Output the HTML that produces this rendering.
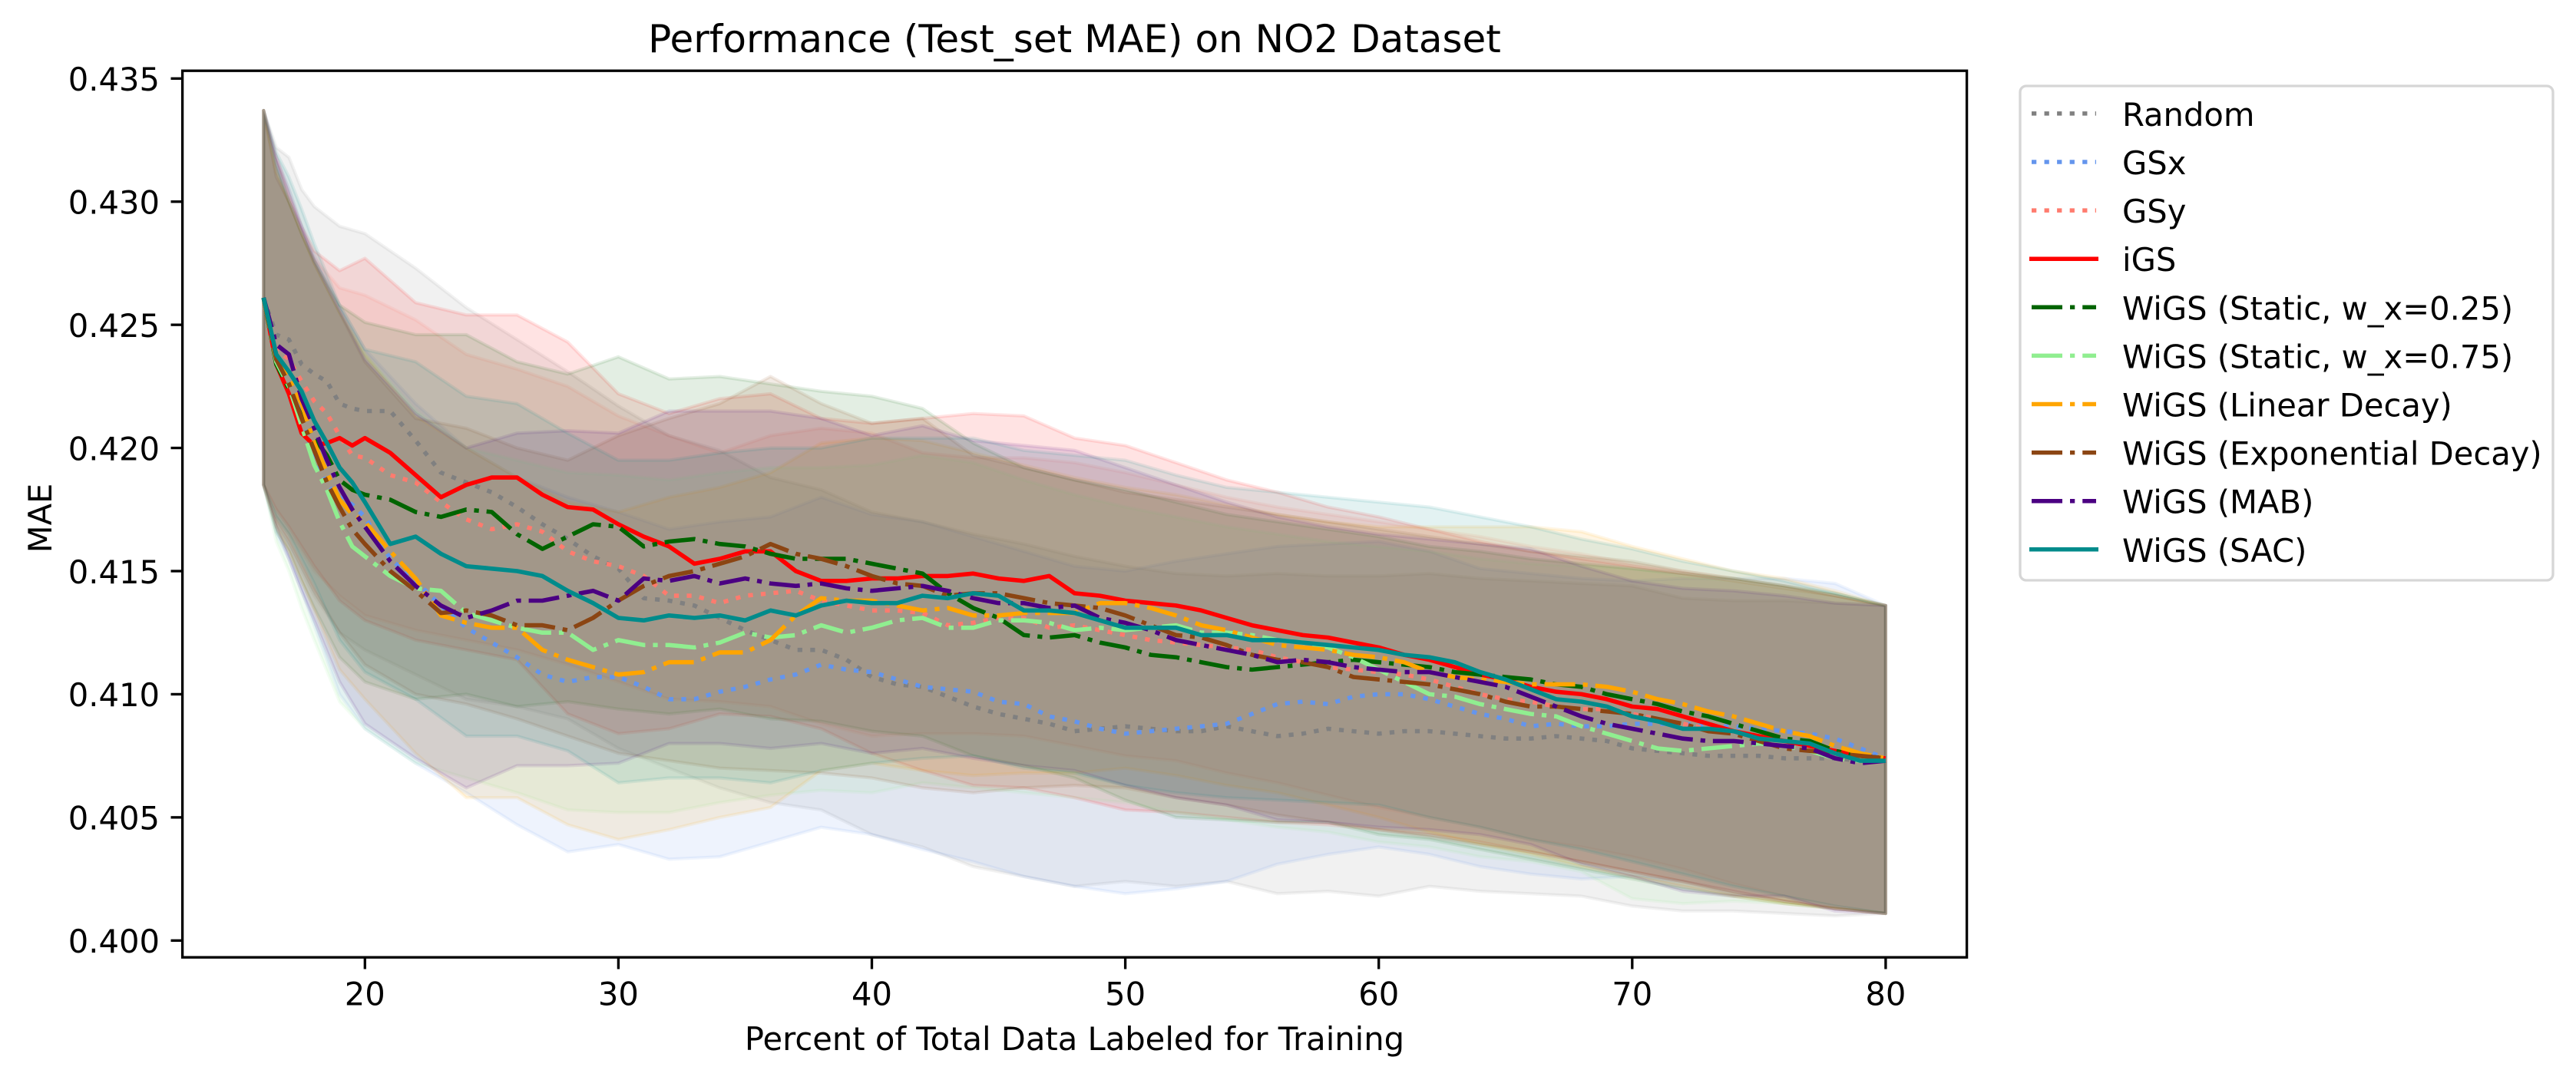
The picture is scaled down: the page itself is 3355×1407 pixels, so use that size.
<!DOCTYPE html>
<html lang="en">
<head>
<meta charset="utf-8">
<title>Performance (Test_set MAE) on NO2 Dataset</title>
<style>
html,body{margin:0;padding:0;background:#fff;width:3355px;height:1407px;overflow:hidden}
svg{display:block}
text{font-family:"DejaVu Sans","Liberation Sans",sans-serif;fill:#000}
</style>
</head>
<body>
<svg id="chart" xmlns="http://www.w3.org/2000/svg" width="3355" height="1407" viewBox="0 0 3355 1407">
  <rect x="0" y="0" width="3355" height="1407" fill="#ffffff"/>
  <g id="bands"></g>
  <g id="lines"></g>
  <g id="ticks"></g>
  <rect x="237.6" y="92.2" width="2324" height="1155" fill="none" stroke="#000" stroke-width="3.33"/>
  <text x="1399.5" y="68" font-size="50" text-anchor="middle">Performance (Test_set MAE) on NO2 Dataset</text>
  <text x="1399.5" y="1368" font-size="41.67" text-anchor="middle">Percent of Total Data Labeled for Training</text>
  <text x="0" y="0" font-size="41.67" text-anchor="middle" transform="translate(67 675) rotate(-90)">MAE</text>
  <g id="legend">
    <rect x="2631" y="112" width="694" height="644" rx="8" ry="8" fill="#ffffff" stroke="#d6d6d6" stroke-width="3.33"/>
    <g><line x1="2646" x2="2730" y1="147.9" y2="147.9" stroke="#808080" stroke-width="5.5" stroke-dasharray="6.25 10.3"/><text x="2764" y="163.9" font-size="41.67">Random</text></g>
    <g><line x1="2646" x2="2730" y1="211" y2="211" stroke="#6495ed" stroke-width="5.5" stroke-dasharray="6.25 10.3"/><text x="2764" y="227" font-size="41.67">GSx</text></g>
    <g><line x1="2646" x2="2730" y1="274.1" y2="274.1" stroke="#ff7b6e" stroke-width="5.5" stroke-dasharray="6.25 10.3"/><text x="2764" y="290.1" font-size="41.67">GSy</text></g>
    <g><line x1="2643" x2="2733" y1="337.2" y2="337.2" stroke="#ff0000" stroke-width="5.5"/><text x="2764" y="353.2" font-size="41.67">iGS</text></g>
    <g><line x1="2646" x2="2730" y1="400.3" y2="400.3" stroke="#006400" stroke-width="5.5" stroke-dasharray="40 10 6.25 10"/><text x="2764" y="416.3" font-size="41.67">WiGS (Static, w_x=0.25)</text></g>
    <g><line x1="2646" x2="2730" y1="463.4" y2="463.4" stroke="#90ee90" stroke-width="5.5" stroke-dasharray="40 10 6.25 10"/><text x="2764" y="479.4" font-size="41.67">WiGS (Static, w_x=0.75)</text></g>
    <g><line x1="2646" x2="2730" y1="526.5" y2="526.5" stroke="#ffa500" stroke-width="5.5" stroke-dasharray="40 10 6.25 10"/><text x="2764" y="542.5" font-size="41.67">WiGS (Linear Decay)</text></g>
    <g><line x1="2646" x2="2730" y1="589.6" y2="589.6" stroke="#8b4513" stroke-width="5.5" stroke-dasharray="40 10 6.25 10"/><text x="2764" y="605.6" font-size="41.67">WiGS (Exponential Decay)</text></g>
    <g><line x1="2646" x2="2730" y1="652.7" y2="652.7" stroke="#4b0082" stroke-width="5.5" stroke-dasharray="40 10 6.25 10"/><text x="2764" y="668.7" font-size="41.67">WiGS (MAB)</text></g>
    <g><line x1="2643" x2="2733" y1="715.8" y2="715.8" stroke="#008b8b" stroke-width="5.5"/><text x="2764" y="731.8" font-size="41.67">WiGS (SAC)</text></g>
  </g>
</svg>
<script>
// ---- Data ----
const percentLabeled = [16,16.5,17,17.5,18,18.5,19,19.5,20,
  21,22,23,24,25,26,27,28,29,30,31,32,33,34,35,36,37,38,39,40,
  41,42,43,44,45,46,47,48,49,50,51,52,53,54,55,56,57,58,59,60,
  61,62,63,64,65,66,67,68,69,70,71,72,73,74,75,76,77,78,79,80];
const bandPercent = [16,16.5,17,17.5,18,19,20,22,24,26,28,30,32,34,36,38,40,42,44,46,48,50,52,54,56,58,60,62,64,66,68,70,72,74,76,78,80];
const xTicks = [20,30,40,50,60,70,80];
const yTicks = ["0.400","0.405","0.410","0.415","0.420","0.425","0.430","0.435"];

const meanRandom = [.4261,.4246,.4244,.4234,.4230,.4227,.4218,.4216,.4215,
  .4215,.4203,.4190,.4186,.4182,.4176,.4169,.4163,.4156,.4151,
  .4139,.4138,.4136,.4131,.4126,.4122,.4118,.4118,.4114,.4107,
  .4104,.4103,.4099,.4095,.4092,.4090,.4088,.4085,.4086,.4087,
  .4086,.4085,.4085,.4087,.4085,.4083,.4084,.4086,.4085,.4084,
  .4085,.4085,.4084,.4083,.4082,.4082,.4083,.4082,.4081,.4078,
  .4077,.4076,.4075,.4075,.4075,.4074,.4074,.4074,.4073,.4073];
const meanGSx = [.4261,.4236,.4228,.4213,.4195,.4185,.4180,.4177,.4172,
  .4155,.4146,.4136,.4127,.4121,.4115,.4108,.4105,.4107,.4107,
  .4103,.4098,.4098,.4101,.4103,.4106,.4108,.4112,.4110,.4109,
  .4106,.4103,.4102,.4101,.4097,.4096,.4091,.4089,.4086,.4084,
  .4085,.4086,.4087,.4088,.4092,.4096,.4097,.4096,.4099,.4100,
  .4100,.4098,.4095,.4092,.4090,.4087,.4088,.4087,.4087,.4088,
  .4088,.4088,.4087,.4087,.4086,.4085,.4084,.4082,.4078,.4074];
const meanGSy = [.4261,.4240,.4236,.4227,.4219,.4214,.4205,.4197,.4196,
  .4189,.4186,.4178,.4171,.4167,.4169,.4166,.4158,.4154,.4152,
  .4148,.4140,.4140,.4137,.4140,.4141,.4142,.4138,.4136,.4134,
  .4134,.4133,.4128,.4129,.4131,.4131,.4127,.4128,.4126,.4124,
  .4122,.4121,.4120,.4119,.4118,.4115,.4113,.4111,.4110,.4109,
  .4108,.4106,.4103,.4100,.4098,.4097,.4095,.4094,.4094,.4092,
  .4090,.4088,.4086,.4085,.4082,.4081,.4079,.4077,.4075,.4074];
const meanIGS = [.4261,.4234,.4222,.4206,.4201,.4202,.4204,.4201,.4204,
  .4198,.4189,.4180,.4185,.4188,.4188,.4181,.4176,.4175,.4169,
  .4164,.4160,.4153,.4155,.4158,.4158,.4150,.4146,.4146,.4147,
  .4147,.4148,.4148,.4149,.4147,.4146,.4148,.4141,.4140,.4138,
  .4137,.4136,.4134,.4131,.4128,.4126,.4124,.4123,.4121,.4119,
  .4116,.4114,.4111,.4108,.4106,.4103,.4101,.4100,.4098,.4095,
  .4094,.4091,.4088,.4085,.4083,.4081,.4079,.4077,.4075,.4074];
const meanStatic25 = [.4261,.4234,.4224,.4213,.4204,.4197,.4187,.4183,.4181,
  .4179,.4174,.4172,.4175,.4174,.4165,.4159,.4164,.4169,.4168,
  .4160,.4162,.4163,.4161,.4160,.4157,.4155,.4155,.4155,.4153,
  .4151,.4149,.4141,.4135,.4131,.4124,.4123,.4124,.4121,.4119,
  .4116,.4115,.4113,.4111,.4110,.4111,.4112,.4113,.4114,.4113,
  .4112,.4111,.4109,.4108,.4107,.4106,.4104,.4103,.4100,.4098,
  .4096,.4093,.4091,.4088,.4085,.4082,.4081,.4077,.4075,.4074];
const meanStatic75 = [.4261,.4235,.4225,.4209,.4193,.4183,.4170,.4160,.4156,
  .4148,.4143,.4142,.4133,.4130,.4127,.4125,.4125,.4118,.4122,
  .4120,.4120,.4119,.4121,.4125,.4123,.4124,.4128,.4125,.4127,
  .4130,.4131,.4127,.4127,.4130,.4130,.4129,.4126,.4127,.4126,
  .4127,.4128,.4125,.4125,.4124,.4122,.4121,.4119,.4115,.4110,
  .4105,.4100,.4099,.4096,.4094,.4092,.4091,.4087,.4084,.4081,
  .4078,.4077,.4078,.4079,.4080,.4079,.4077,.4074,.4073,.4073];
const meanLinear = [.4261,.4236,.4228,.4218,.4202,.4190,.4179,.4173,.4170,
  .4158,.4147,.4132,.4129,.4127,.4127,.4118,.4114,.4111,.4108,
  .4109,.4113,.4113,.4117,.4117,.4122,.4132,.4139,.4138,.4138,
  .4136,.4134,.4135,.4132,.4132,.4133,.4133,.4133,.4137,.4137,
  .4135,.4132,.4128,.4126,.4123,.4120,.4119,.4118,.4116,.4115,
  .4113,.4109,.4107,.4106,.4105,.4104,.4104,.4104,.4103,.4101,
  .4098,.4096,.4093,.4091,.4088,.4085,.4083,.4079,.4076,.4074];
const meanExponential = [.4261,.4236,.4226,.4212,.4199,.4186,.4176,.4167,.4161,
  .4150,.4142,.4133,.4134,.4132,.4128,.4128,.4126,.4131,.4138,
  .4144,.4148,.4150,.4153,.4156,.4161,.4157,.4155,.4152,.4148,
  .4145,.4144,.4140,.4141,.4141,.4139,.4137,.4136,.4135,.4132,
  .4128,.4124,.4123,.4120,.4116,.4114,.4113,.4111,.4107,.4106,
  .4105,.4104,.4102,.4100,.4097,.4095,.4095,.4094,.4093,.4092,
  .4090,.4088,.4085,.4084,.4081,.4078,.4077,.4076,.4075,.4074];
const meanMAB = [.4261,.4242,.4238,.4220,.4208,.4195,.4184,.4175,.4168,
  .4154,.4144,.4136,.4131,.4134,.4138,.4138,.4140,.4142,.4138,
  .4147,.4146,.4148,.4145,.4147,.4145,.4144,.4145,.4143,.4142,
  .4143,.4144,.4142,.4139,.4137,.4137,.4135,.4136,.4131,.4129,
  .4126,.4122,.4120,.4118,.4116,.4113,.4114,.4113,.4111,.4110,
  .4109,.4109,.4107,.4105,.4103,.4099,.4095,.4091,.4088,.4086,
  .4084,.4082,.4081,.4081,.4080,.4079,.4078,.4074,.4072,.4073];
const meanSAC = [.4261,.4238,.4231,.4223,.4211,.4202,.4192,.4186,.4178,
  .4161,.4164,.4157,.4152,.4151,.4150,.4148,.4142,.4137,.4131,
  .4130,.4132,.4131,.4132,.4130,.4134,.4132,.4136,.4138,.4137,
  .4137,.4140,.4139,.4141,.4140,.4134,.4134,.4133,.4130,.4127,
  .4127,.4127,.4124,.4124,.4122,.4122,.4121,.4120,.4119,.4118,
  .4116,.4115,.4113,.4109,.4106,.4102,.4098,.4097,.4095,.4091,
  .4089,.4086,.4086,.4085,.4082,.4081,.4080,.4076,.4073,.4073];

const upperRandom = [.4337,.4322,.4318,.4305,.4298,.4290,.4287,.4273,.4257,.4244,.4231,.4217,.4205,.4199,.4188,.4183,.4174,.4170,.4165,.4161,.4156,.4152,.4149,.4148,.4149,.4148,.4148,.4149,.4147,.4146,.4145,.4144,.4139,.4138,.4138,.4137,.4136];
const lowerRandom = [.4185,.4168,.4160,.4150,.4140,.4125,.4118,.4108,.4098,.4095,.4090,.4078,.4070,.4062,.4056,.4053,.4043,.4038,.4030,.4026,.4022,.4024,.4022,.4024,.4019,.4020,.4018,.4022,.4020,.4019,.4018,.4014,.4012,.4012,.4011,.4010,.4011];
const upperGSx = [.4337,.4316,.4300,.4290,.4278,.4258,.4240,.4218,.4200,.4188,.4180,.4174,.4167,.4170,.4172,.4180,.4173,.4170,.4164,.4158,.4152,.4150,.4154,.4157,.4160,.4161,.4162,.4158,.4151,.4149,.4147,.4146,.4147,.4147,.4147,.4145,.4136];
const lowerGSx = [.4185,.4165,.4155,.4142,.4128,.4100,.4086,.4072,.4060,.4047,.4036,.4039,.4033,.4034,.4040,.4046,.4043,.4037,.4032,.4026,.4022,.4019,.4021,.4024,.4031,.4035,.4038,.4035,.4030,.4027,.4025,.4026,.4024,.4020,.4016,.4013,.4011];
const upperGSy = [.4337,.4312,.4300,.4288,.4277,.4265,.4262,.4252,.4238,.4232,.4225,.4213,.4205,.4198,.4205,.4208,.4206,.4198,.4196,.4196,.4194,.4190,.4185,.4180,.4176,.4173,.4170,.4167,.4164,.4160,.4157,.4153,.4150,.4147,.4144,.4140,.4136];
const lowerGSy = [.4185,.4172,.4165,.4158,.4150,.4140,.4132,.4126,.4122,.4118,.4112,.4105,.4098,.4097,.4095,.4088,.4083,.4084,.4084,.4083,.4079,.4075,.4073,.4068,.4064,.4059,.4054,.4050,.4046,.4041,.4038,.4034,.4029,.4023,.4018,.4014,.4011];
const upperIGS = [.4337,.4318,.4303,.4290,.4280,.4272,.4277,.4259,.4254,.4254,.4243,.4222,.4214,.4220,.4222,.4212,.4210,.4212,.4214,.4213,.4204,.4201,.4194,.4187,.4182,.4176,.4172,.4167,.4162,.4158,.4155,.4152,.4149,.4146,.4143,.4140,.4136];
const lowerIGS = [.4185,.4175,.4168,.4160,.4152,.4138,.4130,.4122,.4118,.4114,.4092,.4084,.4086,.4092,.4091,.4086,.4076,.4069,.4063,.4062,.4058,.4053,.4052,.4050,.4048,.4047,.4045,.4043,.4040,.4036,.4032,.4028,.4024,.4020,.4016,.4013,.4011];
const upperStatic25 = [.4337,.4315,.4300,.4287,.4276,.4258,.4251,.4246,.4246,.4235,.4230,.4237,.4228,.4229,.4226,.4223,.4221,.4216,.4202,.4192,.4187,.4183,.4178,.4173,.4170,.4167,.4164,.4160,.4158,.4155,.4153,.4151,.4149,.4147,.4144,.4141,.4136];
const lowerStatic25 = [.4185,.4166,.4158,.4146,.4135,.4115,.4105,.4098,.4100,.4095,.4097,.4094,.4092,.4094,.4090,.4089,.4085,.4083,.4075,.4071,.4066,.4057,.4050,.4049,.4048,.4048,.4043,.4041,.4037,.4033,.4029,.4025,.4021,.4018,.4015,.4013,.4011];
const upperStatic75 = [.4337,.4312,.4300,.4287,.4275,.4255,.4238,.4215,.4200,.4195,.4190,.4189,.4187,.4190,.4192,.4192,.4193,.4197,.4194,.4187,.4181,.4176,.4172,.4168,.4165,.4162,.4160,.4158,.4155,.4153,.4152,.4151,.4148,.4146,.4143,.4140,.4136];
const lowerStatic75 = [.4185,.4162,.4150,.4135,.4122,.4097,.4086,.4072,.4066,.4060,.4053,.4052,.4052,.4056,.4059,.4061,.4060,.4064,.4062,.4060,.4058,.4056,.4052,.4049,.4046,.4044,.4040,.4038,.4034,.4032,.4028,.4017,.4015,.4016,.4015,.4013,.4011];
const upperLinear = [.4337,.4312,.4300,.4287,.4275,.4255,.4238,.4213,.4200,.4188,.4178,.4174,.4180,.4184,.4190,.4202,.4204,.4203,.4198,.4193,.4188,.4184,.4181,.4177,.4173,.4170,.4168,.4168,.4168,.4168,.4166,.4160,.4155,.4150,.4147,.4142,.4136];
const lowerLinear = [.4185,.4168,.4158,.4146,.4134,.4110,.4098,.4076,.4058,.4058,.4047,.4041,.4045,.4050,.4054,.4069,.4072,.4069,.4067,.4068,.4068,.4070,.4067,.4063,.4060,.4055,.4050,.4044,.4039,.4035,.4030,.4026,.4022,.4018,.4015,.4013,.4011];
const upperExponential = [.4337,.4310,.4300,.4287,.4275,.4255,.4235,.4212,.4208,.4200,.4195,.4205,.4212,.4218,.4229,.4218,.4210,.4212,.4197,.4192,.4187,.4182,.4179,.4176,.4173,.4170,.4167,.4164,.4161,.4158,.4156,.4154,.4150,.4147,.4144,.4140,.4136];
const lowerExponential = [.4185,.4170,.4162,.4152,.4142,.4125,.4112,.4100,.4096,.4090,.4083,.4076,.4073,.4070,.4069,.4068,.4066,.4062,.4060,.4062,.4063,.4062,.4058,.4055,.4051,.4048,.4045,.4042,.4039,.4036,.4032,.4028,.4024,.4019,.4016,.4013,.4011];
const upperMAB = [.4337,.4318,.4305,.4290,.4276,.4256,.4236,.4214,.4200,.4206,.4207,.4206,.4215,.4215,.4215,.4212,.4205,.4209,.4203,.4201,.4199,.4192,.4185,.4178,.4172,.4168,.4165,.4163,.4161,.4159,.4152,.4146,.4143,.4142,.4140,.4137,.4136];
const lowerMAB = [.4185,.4168,.4155,.4142,.4130,.4105,.4088,.4074,.4062,.4071,.4071,.4072,.4080,.4080,.4078,.4080,.4076,.4078,.4074,.4071,.4069,.4063,.4058,.4055,.4049,.4048,.4046,.4045,.4043,.4039,.4031,.4026,.4020,.4018,.4018,.4012,.4011];
const upperSAC = [.4337,.4320,.4310,.4297,.4283,.4258,.4240,.4235,.4221,.4218,.4206,.4195,.4195,.4198,.4200,.4200,.4204,.4204,.4204,.4199,.4197,.4195,.4189,.4184,.4182,.4180,.4178,.4176,.4172,.4168,.4163,.4159,.4154,.4150,.4146,.4141,.4136];
const lowerSAC = [.4185,.4172,.4165,.4155,.4145,.4122,.4109,.4098,.4083,.4083,.4077,.4064,.4066,.4066,.4064,.4069,.4072,.4074,.4075,.4070,.4068,.4063,.4060,.4058,.4057,.4056,.4055,.4050,.4046,.4041,.4037,.4032,.4027,.4022,.4018,.4014,.4011];

// ---- Series wiring and styling ----
const DOTTED = '6.25 10.3';
const DASHDOT = '40 10 6.25 10';
const seriesList = [
  {key:'random', mean:meanRandom, upper:upperRandom, lower:lowerRandom, color:'#808080', lineColor:'#808080', dash:DOTTED},
  {key:'gsx', mean:meanGSx, upper:upperGSx, lower:lowerGSx, color:'#6495ed', lineColor:'#6495ed', dash:DOTTED},
  {key:'gsy', mean:meanGSy, upper:upperGSy, lower:lowerGSy, color:'#ff7b6e', lineColor:'#ff7b6e', dash:DOTTED},
  {key:'igs', mean:meanIGS, upper:upperIGS, lower:lowerIGS, color:'#ff0000', lineColor:'#ff0000', dash:null},
  {key:'wigs-static-025', mean:meanStatic25, upper:upperStatic25, lower:lowerStatic25, color:'#006400', lineColor:'#006400', dash:DASHDOT},
  {key:'wigs-static-075', mean:meanStatic75, upper:upperStatic75, lower:lowerStatic75, color:'#90ee90', lineColor:'#90ee90', dash:DASHDOT},
  {key:'wigs-linear', mean:meanLinear, upper:upperLinear, lower:lowerLinear, color:'#ffa500', lineColor:'#ffa500', dash:DASHDOT},
  {key:'wigs-exponential', mean:meanExponential, upper:upperExponential, lower:lowerExponential, color:'#8b4513', lineColor:'#8b4513', dash:DASHDOT},
  {key:'wigs-mab', mean:meanMAB, upper:upperMAB, lower:lowerMAB, color:'#4b0082', lineColor:'#4b0082', dash:DASHDOT},
  {key:'wigs-sac', mean:meanSAC, upper:upperSAC, lower:lowerSAC, color:'#008b8b', lineColor:'#008b8b', dash:null}
];

// ---- Axis functions ----
function xScale(pct){ return 475.3 + (pct - 20) * 33.01; }
function yScale(mae){ return 1225.3 - (mae - 0.4) * 32086; }

const NS = 'http://www.w3.org/2000/svg';
function make(tag){ return document.createElementNS(NS, tag); }
function polyPoints(xs, ys){
  return ys.map(function(v, i){ return xScale(xs[i]).toFixed(1) + ' ' + yScale(v).toFixed(1); });
}

const bandLayer = document.getElementById('bands');
const lineLayer = document.getElementById('lines');
const tickLayer = document.getElementById('ticks');

seriesList.forEach(function(s){
  const band = make('path');
  
  
  const top = polyPoints(bandPercent, s.upper);
  const bottom = polyPoints(bandPercent, s.lower).reverse();
  band.setAttribute('d', 'M' + top.concat(bottom).join(' L') + ' Z');
  band.setAttribute('fill', s.color);
  band.setAttribute('fill-opacity', '0.11');
  band.setAttribute('stroke', s.color);
  band.setAttribute('stroke-opacity', '0.1');
  band.setAttribute('stroke-width', '4.2');
  band.setAttribute('stroke-linejoin', 'round');
  bandLayer.appendChild(band);
});

seriesList.forEach(function(s){
  const line = make('path');
  
  
  line.setAttribute('d', 'M' + polyPoints(percentLabeled, s.mean).join(' L'));
  line.setAttribute('fill', 'none');
  line.setAttribute('stroke', s.lineColor);
  line.setAttribute('stroke-width', '5.6');
  line.setAttribute('stroke-linejoin', 'round');
  if (s.dash) { line.setAttribute('stroke-dasharray', s.dash); }
  lineLayer.appendChild(line);
});

xTicks.forEach(function(t){
  const mark = make('line');
  
  
  mark.setAttribute('x1', xScale(t));
  mark.setAttribute('x2', xScale(t));
  mark.setAttribute('y1', 1247.2);
  mark.setAttribute('y2', 1262.5);
  mark.setAttribute('stroke', '#000');
  mark.setAttribute('stroke-width', '3.33');
  tickLayer.appendChild(mark);
  const label = make('text');
  
  
  label.setAttribute('x', xScale(t));
  label.setAttribute('y', 1309.5);
  label.setAttribute('font-size', '41.67');
  label.setAttribute('text-anchor', 'middle');
  label.textContent = String(t);
  tickLayer.appendChild(label);
});

yTicks.forEach(function(t){
  const v = parseFloat(t);
  const mark = make('line');
  
  
  mark.setAttribute('x1', 222.5);
  mark.setAttribute('x2', 237.6);
  mark.setAttribute('y1', yScale(v));
  mark.setAttribute('y2', yScale(v));
  mark.setAttribute('stroke', '#000');
  mark.setAttribute('stroke-width', '3.33');
  tickLayer.appendChild(mark);
  const label = make('text');
  
  
  label.setAttribute('x', 208);
  label.setAttribute('y', yScale(v) + 15.8);
  label.setAttribute('font-size', '41.67');
  label.setAttribute('text-anchor', 'end');
  label.textContent = t;
  tickLayer.appendChild(label);
});
</script>
</body>
</html>
